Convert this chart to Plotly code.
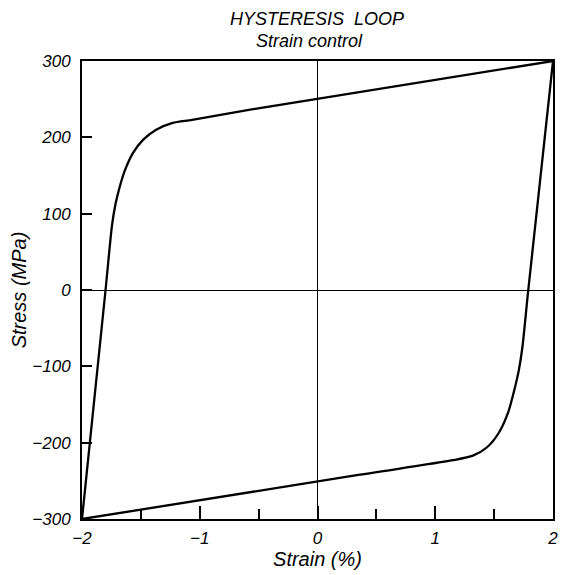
import plotly.graph_objects as go

# Upper (loading) branch: from (-2, -300) to (2, 300)
upper_strain = [-2.0, -1.80, -1.745, -1.715, -1.68, -1.635, -1.569, -1.48, -1.37, -1.23, -1.065, -0.504, 2.0]
upper_stress = [-300, 0, 85, 113, 135, 157, 179, 197, 210, 219, 223, 238, 300]

# Lower (unloading) branch: from (2, 300) to (-2, -300)
lower_strain = [2.0, 1.79, 1.74, 1.71, 1.67, 1.62, 1.54, 1.44, 1.32, 1.15, 0.36, -2.0]
lower_stress = [300, 0, -75, -105, -132, -160, -187, -206, -217, -223, -242, -300]

x_ticks = [-2, -1, 0, 1, 2]
y_ticks = [-300, -200, -100, 0, 100, 200, 300]

FONT = "Liberation Sans"

fig = go.Figure()
for xs, ys in ((upper_strain, upper_stress), (lower_strain, lower_stress)):
    fig.add_trace(go.Scatter(x=xs, y=ys, mode="lines",
                             line=dict(color="black", width=2.3, shape="spline", smoothing=0.7),
                             showlegend=False, hoverinfo="skip"))

fig.update_layout(
    width=562, height=575,
    margin=dict(l=82, r=4, t=61, b=56),
    paper_bgcolor="white", plot_bgcolor="white",
    font=dict(family=FONT, size=17, color="black", style="italic"),
    showlegend=False,
)

fig.add_annotation(text="HYSTERESIS  LOOP", xref="paper", yref="paper",
                   x=0.5, y=1, xshift=-1, yshift=42, yanchor="middle", showarrow=False,
                   font=dict(size=18, family=FONT, style="italic"))
fig.add_annotation(text="Strain control", xref="paper", yref="paper",
                   x=0.5, y=1, xshift=-8, yshift=20, yanchor="middle", showarrow=False,
                   font=dict(size=18, family=FONT, style="italic"))

fig.update_xaxes(
    range=[-2, 2], tickvals=x_ticks,
    ticktext=["\u22122", "\u22121", "0", "1", "2"],
    ticks="inside", ticklen=13, tickwidth=1.5, tickcolor="black",
    minor=dict(dtick=0.5, ticks="inside", ticklen=10, tickwidth=1.5, tickcolor="black", showgrid=False),
    showline=True, linecolor="black", linewidth=2, mirror=True,
    showgrid=False, zeroline=True, zerolinecolor="black", zerolinewidth=1,
    title=dict(text="Strain (%)", font=dict(size=20), standoff=0),
    tickfont=dict(size=17), ticklabelstandoff=3,
)
fig.update_yaxes(
    range=[-300, 300], tickvals=y_ticks,
    ticktext=["\u2212300", "\u2212200", "\u2212100", "0", "100", "200", "300"],
    ticks="inside", ticklen=10, tickwidth=1.5, tickcolor="black",
    showline=True, linecolor="black", linewidth=2, mirror=True,
    showgrid=False, zeroline=True, zerolinecolor="black", zerolinewidth=1,
    title=dict(text="Stress (MPa)", font=dict(size=20), standoff=0),
    tickfont=dict(size=17), ticklabelstandoff=6,
)

fig.write_html("out.html")
